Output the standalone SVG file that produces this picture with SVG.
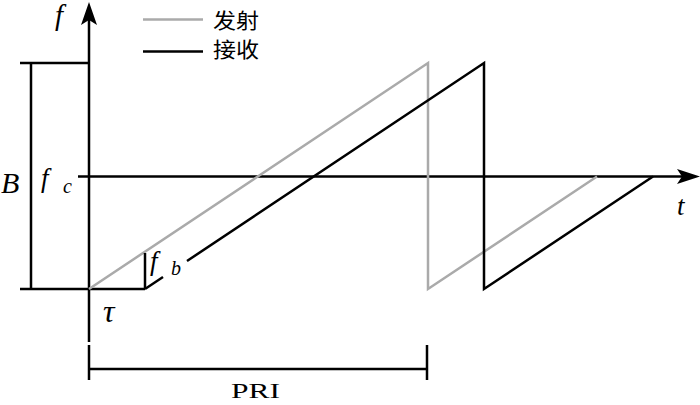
<svg xmlns="http://www.w3.org/2000/svg" width="700" height="405" viewBox="0 0 700 405">
<style>
.k{fill:none;stroke:#000;stroke-width:2.5}
.g{fill:none;stroke:#aaaaaa;stroke-width:2.5}
.m{font-family:"Liberation Serif",serif;font-style:italic;fill:#000}
.r{font-family:"Liberation Serif",serif;fill:#000}
.c{font-family:"Liberation Sans","Noto Sans CJK SC",sans-serif;fill:#000}
</style>
<rect width="700" height="405" fill="#fff"/>
<g id="axes">
<line class="k" x1="89" y1="20" x2="89" y2="342"/>
<path d="M89,2 L97,25 L89,20 L81,25 Z" fill="#000"/>
<line class="k" x1="78" y1="176.5" x2="684" y2="176.5"/>
<path d="M700,176.5 L677,184 L682,176.5 L677,169 Z" fill="#000"/>
<text class="m" x="55" y="25" font-size="29">f</text>
<text class="m" x="677" y="215" font-size="27">t</text>
</g>
<g id="bandwidth">
<polyline class="k" points="89,63 20,63"/>
<line class="k" x1="20" y1="289" x2="145" y2="289"/>
<line class="k" x1="31" y1="63" x2="31" y2="289"/>
<text class="m" x="1" y="193" font-size="30">B</text>
<text class="m" x="41" y="187" font-size="27">f</text>
<text class="m" x="63" y="193" font-size="20">c</text>
</g>
<g id="signals">
<polyline class="g" points="89,289 428,63 428,289 597,176.5"/>
<polyline class="k" points="145,289 163,277"/>
<polyline class="k" points="187,261 484,63 484,289 653,176.5"/>
<line class="k" x1="145" y1="253" x2="145" y2="289"/>
<text class="m" x="150" y="270" font-size="27">f</text>
<text class="m" x="171" y="275" font-size="20">b</text>
<text class="m" x="103" y="322" font-size="32">τ</text>
</g>
<g id="pri">
<line class="k" x1="89" y1="369" x2="427" y2="369"/>
<line class="k" x1="89" y1="345" x2="89" y2="380"/>
<line class="k" x1="427" y1="345" x2="427" y2="380"/>
<text class="r" x="231" y="398" font-size="20" textLength="49" lengthAdjust="spacingAndGlyphs">PRI</text>
</g>
<g id="legend">
<line class="g" x1="143" y1="19.5" x2="203" y2="19.5"/>
<line class="k" x1="143" y1="51.5" x2="203" y2="51.5"/>
<text class="c" x="213" y="28" font-size="21" textLength="46" lengthAdjust="spacingAndGlyphs">发射</text>
<text class="c" x="213" y="57" font-size="21" textLength="46" lengthAdjust="spacingAndGlyphs">接收</text>
</g>
</svg>
